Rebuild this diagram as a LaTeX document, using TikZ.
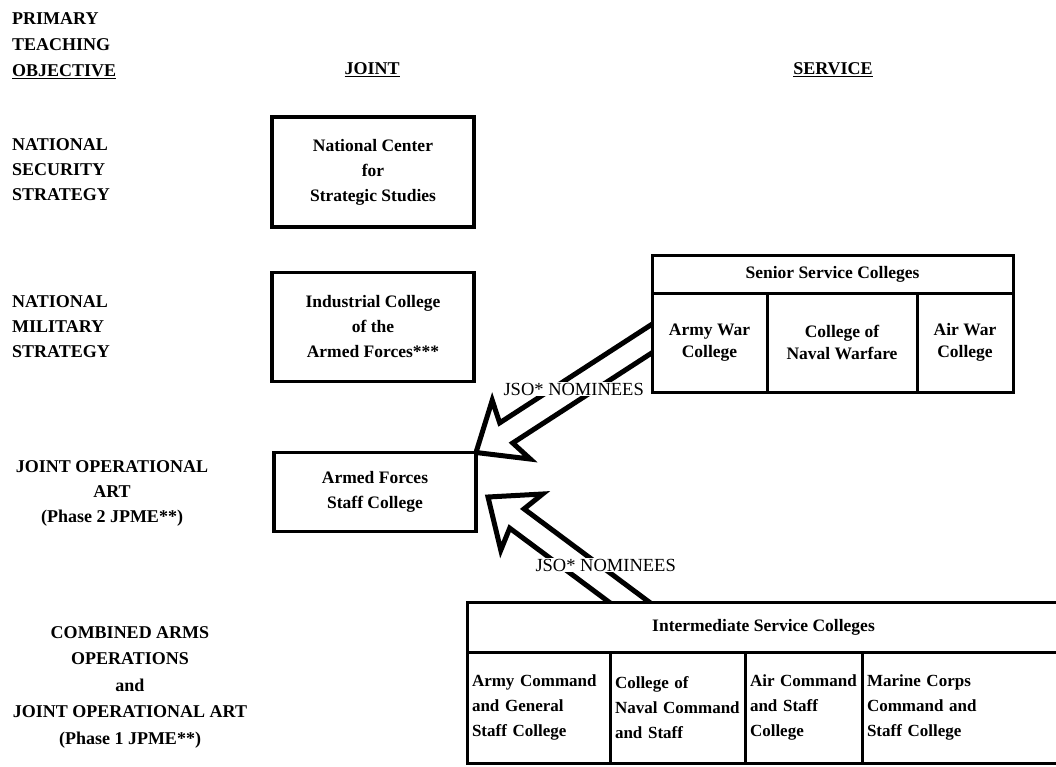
\documentclass[tikz,border=0pt]{standalone}
\usepackage{fontspec}
\setmainfont{Liberation Serif}
\usetikzlibrary{calc,positioning}
\pgfdeclarelayer{background}
\pgfsetlayers{background,main}

\newcommand{\nohyph}{\hyphenpenalty 10000\exhyphenpenalty 10000\relax}

\tikzset{
  lbl/.style={font=\fontsize{18}{25}\selectfont\bfseries, inner sep=0pt},
  lblleft/.style={lbl, align=left, anchor=west},
  lblmid/.style={lbl, align=center},
  collbox/.style={draw, line width=3.5pt, fill=white, outer sep=0pt, minimum width=202pt,
    font=\fontsize{17.5}{25}\selectfont\bfseries, align=center},
  cell/.style={draw, line width=3pt, fill=white, outer sep=0pt, inner sep=0pt, align=center,
    font=\fontsize{17.5}{22}\selectfont\bfseries},
  lcell/.style={cell, align=left, inner xsep=5pt, minimum height=111pt, anchor=north west,
    font=\fontsize{17}{25}\selectfont\bfseries\nohyph},
  nominee/.style={fill=white, inner sep=1pt, font=\fontsize{18.5}{22}\selectfont},
  hollow/.style={line width=5pt, line join=miter}
}

% outlined arrow: #1 tip, #2 tail
\newcommand{\nomarrow}[2]{%
  \draw[hollow] ($(#2)!-30pt!(#1)!12pt!-90:(#1)$) -- ($(#1)!36pt!(#2)!12pt!90:(#2)$)
    -- ($(#1)!42pt!(#2)!35pt!90:(#2)$) -- (#1) -- ($(#1)!42pt!(#2)!35pt!-90:(#2)$)
    -- ($(#1)!36pt!(#2)!12pt!-90:(#2)$) -- ($(#2)!-30pt!(#1)!12pt!90:(#1)$);
}

\begin{document}
\begin{tikzpicture}[x=1pt, y=-1pt]
  \useasboundingbox (0,0) rectangle (1056,767);

  % column heads
  \node[lblleft, font=\fontsize{18}{26}\selectfont\bfseries] (objhead) at (12,46)
    {PRIMARY\\TEACHING\\\underline{OBJECTIVE}};
  \node[lbl] (jointhead) at (372,70) {\underline{JOINT}};
  \node[lbl] (servhead) at (833,70) {\underline{SERVICE}};

  % teaching objectives
  \node[lblleft] (nsslbl) at (12,170) {NATIONAL\\SECURITY\\STRATEGY};
  \node[lblleft] (nmslbl) at (12,327) {NATIONAL\\MILITARY\\STRATEGY};
  \node[lblmid] (jopalbl) at (112,493) {JOINT OPERATIONAL\\ART\\(Phase 2 JPME**)};
  \node[lblmid, font=\fontsize{18}{26.5}\selectfont\bfseries] (camlbl) at (130,687)
    {COMBINED ARMS\\OPERATIONS\\and\\JOINT OPERATIONAL ART\\(Phase 1 JPME**)};

  % joint colleges
  \node[collbox, minimum height=110pt] (ncss) at (373,172) {National Center\\for\\Strategic Studies};
  \node[collbox, minimum height=109pt] (icaf) at (373,327) {Industrial College\\of the\\Armed Forces***};
  \node[collbox, minimum height=79pt] (afsc) at (375,492) {Armed Forces\\Staff College};

  % senior service colleges
  \node[cell, minimum width=361pt, minimum height=38pt, anchor=north west] (ssc) at (652,255)
    {Senior Service Colleges};
  \node[cell, minimum width=115pt, minimum height=99pt, anchor=north west] (armywar) at (ssc.south west)
    {Army War\\College};
  \node[cell, minimum width=150pt, minimum height=99pt, anchor=north west] (navalwar) at (armywar.north east)
    {College of\\Naval Warfare};
  \node[cell, minimum width=96pt, minimum height=99pt, anchor=north west] (airwar) at (navalwar.north east)
    {Air War\\College};

  % intermediate service colleges
  \node[cell, minimum width=593pt, minimum height=50pt, anchor=north west] (isc) at (467,602)
    {Intermediate Service Colleges};
  \node[lcell, text width=133pt] (armycgs) at (isc.south west)
    {Army Command\\and General\\Staff College};
  \node[lcell, text width=125pt] (navalcs) at (armycgs.north east)
    {College of\\Naval Command\\and Staff};
  \node[lcell, text width=107pt] (aircs) at (navalcs.north east)
    {Air Command\\and Staff\\College};
  \node[lcell, text width=188pt] (marinecs) at (aircs.north east)
    {Marine Corps\\Command and\\Staff College};

  % nominee arrows
  \coordinate (tipA) at (afsc.north east);
  \coordinate (tailA) at ($(armywar.west)+(0,-4)$);
  \coordinate (tipB) at ($(afsc.east)+(12,5)$);
  \coordinate (tailB) at ($(isc.north west)+(162,0)$);
  \begin{pgfonlayer}{background}
    \nomarrow{tipA}{tailA}
    \nomarrow{tipB}{tailB}
  \end{pgfonlayer}
  \node[nominee] (nomA) at ($(tipA)!0.555!(tailA)$) {JSO* NOMINEES};
  \node[nominee] (nomB) at ($(tipB)!0.65!(tailB)+(26,0)$) {JSO* NOMINEES};
\end{tikzpicture}
\end{document}
